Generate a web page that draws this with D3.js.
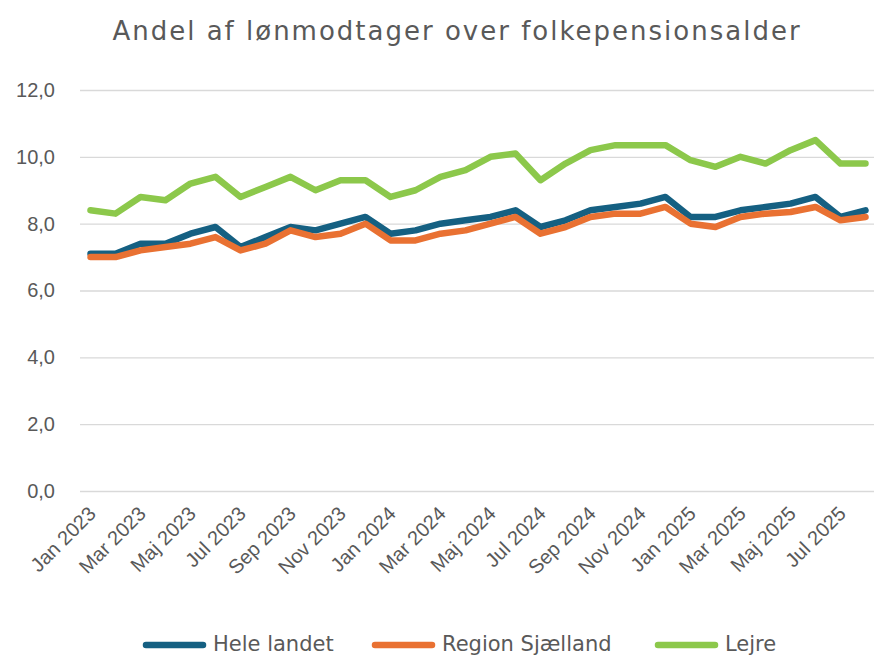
<!DOCTYPE html>
<html>
<head>
<meta charset="utf-8">
<script src="https://cdn.jsdelivr.net/npm/d3@7"></script>
<style>
  body { margin: 0; background: #fff; }
  svg { display: block; font-family: "DejaVu Sans", sans-serif; }
  .grid line { stroke: #d9d9d9; stroke-width: 1.3; }
  .tick text { fill: #595959; }
</style>
</head>
<body>
<div id="chart"></div>
<script>
// -> data
var months = ["Jan 2023","Feb 2023","Mar 2023","Apr 2023","Maj 2023","Jun 2023","Jul 2023","Aug 2023",
              "Sep 2023","Okt 2023","Nov 2023","Dec 2023","Jan 2024","Feb 2024","Mar 2024","Apr 2024",
              "Maj 2024","Jun 2024","Jul 2024","Aug 2024","Sep 2024","Okt 2024","Nov 2024","Dec 2024",
              "Jan 2025","Feb 2025","Mar 2025","Apr 2025","Maj 2025","Jun 2025","Jul 2025","Aug 2025"];

var heleLandet = [7.1,7.1,7.4,7.4,7.7,7.9,7.3,7.6,7.9,7.8,8.0,8.2,7.7,7.8,8.0,8.1,
                  8.2,8.4,7.9,8.1,8.4,8.5,8.6,8.8,8.2,8.2,8.4,8.5,8.6,8.8,8.2,8.4];
var regionSjaelland = [7.0,7.0,7.2,7.3,7.4,7.6,7.2,7.4,7.8,7.6,7.7,8.0,7.5,7.5,7.7,7.8,
                       8.0,8.2,7.7,7.9,8.2,8.3,8.3,8.5,8.0,7.9,8.2,8.3,8.35,8.5,8.1,8.2];
var lejre = [8.4,8.3,8.8,8.7,9.2,9.4,8.8,9.1,9.4,9.0,9.3,9.3,8.8,9.0,9.4,9.6,
             10.0,10.1,9.3,9.8,10.2,10.35,10.35,10.35,9.9,9.7,10.0,9.8,10.2,10.5,9.8,9.8];

var yTicks = [0, 2, 4, 6, 8, 10, 12];

var seriesNames = ["Hele landet", "Region Sjælland", "Lejre"];
var seriesColors = ["#156082", "#e97132", "#8cc84b"];
var seriesData = [heleLandet, regionSjaelland, lejre];

// -> dimensions
var width = 874, height = 656;
var plotLeft = 80, plotRight = 874, plotTop = 90, plotBottom = 491;

var svg = d3.select("#chart").append("svg")
    .attr("width", width)
    .attr("height", height);

var x = d3.scalePoint().domain(months).range([78, 878]).padding(0.5);
var y = d3.scaleLinear().domain([0, 12]).range([plotBottom, plotTop]);

var fmt = function(d) { return d3.format(".1f")(d).replace(".", ","); };

// -> title
svg.append("text")
    .attr("x", 457)
    .attr("y", 40)
    .attr("text-anchor", "middle")
    .attr("fill", "#595959")
    .style("font-size", "26px")
    .style("letter-spacing", "2px")
    .text("Andel af lønmodtager over folkepensionsalder");

// -> gridlines + y labels
var yAxis = svg.append("g")
    .attr("class", "grid")
    .attr("transform", "translate(" + plotLeft + ",0)")
    .call(d3.axisLeft(y).tickValues(yTicks).tickFormat(fmt)
        .tickSize(-(plotRight - plotLeft)).tickPadding(25));
yAxis.select(".domain").remove();
yAxis.selectAll(".tick text").style("font-size", "20px");

// -> x labels (every second month)
var xAxis = svg.append("g")
    .attr("transform", "translate(0," + plotBottom + ")")
    .call(d3.axisBottom(x).tickValues(months.filter(function(d, i) { return i % 2 === 0; }))
        .tickSize(0));
xAxis.select(".domain").remove();
xAxis.selectAll(".tick text")
    .style("font-size", "20px")
    .attr("text-anchor", "end")
    .attr("dy", null)
    .attr("y", 0)
    .attr("transform", "translate(6,24) rotate(-45)");

// -> lines
var line = d3.line()
    .x(function(d, i) { return x(months[i]); })
    .y(function(d) { return y(d); });

seriesData.forEach(function(s, k) {
    svg.append("path")
        .datum(s)
        .attr("fill", "none")
        .attr("stroke", seriesColors[k])
        .attr("stroke-width", 6.5)
        .attr("stroke-linejoin", "round")
        .attr("stroke-linecap", "round")
        .attr("d", line);
});

// -> legend
var legendX = [143, 372, 655];
var legend = svg.append("g");
seriesNames.forEach(function(name, k) {
    legend.append("line")
        .attr("x1", legendX[k] + 3).attr("x2", legendX[k] + 60)
        .attr("y1", 645).attr("y2", 645)
        .attr("stroke", seriesColors[k])
        .attr("stroke-width", 6.5)
        .attr("stroke-linecap", "round");
    legend.append("text")
        .attr("x", legendX[k] + 70)
        .attr("y", 651)
        .attr("fill", "#595959")
        .style("font-size", "21px")
        .text(name);
});
</script>
</body>
</html>
